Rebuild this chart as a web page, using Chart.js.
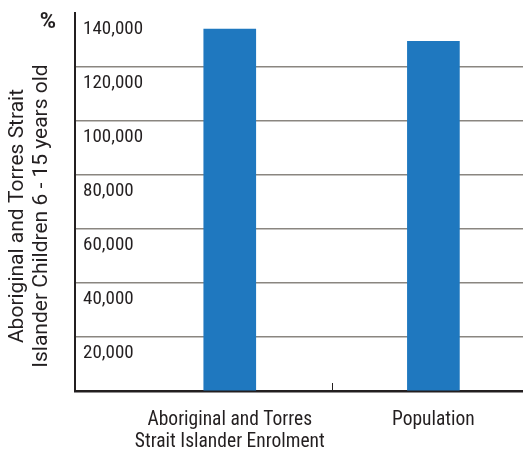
<!DOCTYPE html>
<html>
<head>
<meta charset="utf-8">
<script src="https://cdn.jsdelivr.net/npm/chart.js@4/dist/chart.umd.min.js"></script>
<style>
  html, body { margin: 0; padding: 0; background: #fff; }
  #wrap { width: 523px; height: 454px; }
</style>
</head>
<body>
<div id="wrap"><canvas id="enrolChart"></canvas></div>
<script>
const categories = [
    ['Aboriginal and Torres', 'Strait Islander Enrolment'],
    'Population'
];
const childCounts = [134000, 129500];
const yTicks = [0, 20000, 40000, 60000, 80000, 100000, 120000, 140000];
const yTitle = ['Aboriginal and Torres Strait', 'Islander Children 6 - 15 years old'];
const unitLabel = '%';

const FAMILY = "Roboto, 'DejaVu Sans Condensed', sans-serif";
const STRETCH = 'normal condensed';
const INK = '#231f20';

// axis title (two rotated lines), the unit mark and the small divider tick
const extras = {
    id: 'extras',
    afterDraw(chart) {
        const { ctx, chartArea, scales } = chart;
        const xm = scales.x.getPixelForValue(1);
        ctx.save();
        ctx.strokeStyle = INK;
        ctx.lineWidth = 1;
        ctx.beginPath();
        ctx.moveTo(Math.round(xm) + 0.5, chartArea.bottom - 8);
        ctx.lineTo(Math.round(xm) + 0.5, chartArea.bottom);
        ctx.stroke();

        ctx.fillStyle = INK;
        ctx.font = "bold 22px " + FAMILY;
        ctx.textAlign = 'right';
        ctx.textBaseline = 'middle';
        ctx.fillText(unitLabel, chartArea.left - 19, chartArea.top + 9);

        ctx.font = "21px " + FAMILY;
        ctx.textAlign = 'center';
        const midY = (chartArea.top + chartArea.bottom) / 2 + 14;
        yTitle.forEach((line, i) => {
            ctx.save();
            ctx.translate(18 + i * 24, midY);
            ctx.rotate(-Math.PI / 2);
            ctx.fillText(line, 0, 0);
            ctx.restore();
        });
        ctx.restore();
    }
};

const chart = new Chart(document.getElementById('enrolChart'), {
    type: 'bar',
    data: {
        datasets: [{
            data: childCounts.map((v, i) => ({ x: i + 0.5, y: v })),
            backgroundColor: '#1f78bf',
            borderWidth: 0,
            barThickness: 52
        }]
    },
    options: {
        responsive: true,
        maintainAspectRatio: false,
        animation: false,
        layout: { padding: { top: 13, right: 0, bottom: 1, left: 59 } },
        plugins: {
            legend: { display: false },
            tooltip: { enabled: false }
        },
        scales: {
            x: {
                type: 'linear',
                offset: false,
                min: -0.26,
                max: 1.94,
                afterBuildTicks(scale) {
                    scale.ticks = categories.map((c, i) => ({ value: i + 0.5 }));
                },
                afterFit(scale) {
                    scale.height = 62;
                },
                grid: { display: false, drawTicks: false },
                border: { display: true, color: INK, width: 2.5 },
                ticks: {
                    padding: 18,
                    color: INK,
                    maxRotation: 0,
                    autoSkip: false,
                    font: { family: FAMILY, size: 19.5, weight: STRETCH, lineHeight: 1.14 },
                    callback: (value) => categories[Math.floor(value)]
                }
            },
            y: {
                min: 0,
                max: 140000,
                afterBuildTicks(scale) {
                    scale.ticks = yTicks.map(v => ({ value: v }));
                },
                // labels sit inside the plot, so no extra room above/below the axis
                afterFit(scale) {
                    scale.paddingTop = 0;
                    scale.paddingBottom = 0;
                },
                grid: {
                    drawTicks: false,
                    lineWidth: 1.5,
                    color: (c) => (c.tick && (c.tick.value === 0 || c.tick.value === 140000)) ? 'rgba(0,0,0,0)' : '#8a8680'
                },
                border: { display: true, color: INK, width: 2 },
                ticks: {
                    mirror: true,
                    padding: 8,
                    labelOffset: 16,
                    color: INK,
                    font: { family: FAMILY, size: 19, weight: STRETCH },
                    callback: (value) => value === 0 ? '' : value.toLocaleString('en-US')
                }
            }
        }
    },
    plugins: [extras]
});
</script>
</body>
</html>
